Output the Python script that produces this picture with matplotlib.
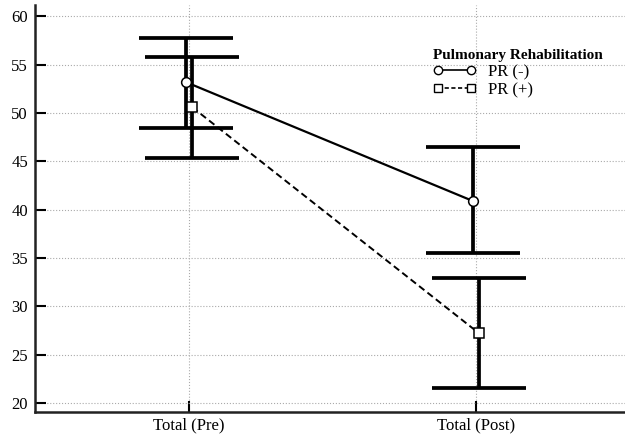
import matplotlib.pyplot as plt
from matplotlib.lines import Line2D

# values
categories = ["Total (Pre)", "Total (Post)"]
pr_minus = [53.2, 40.9]
pr_minus_hi = [57.8, 46.5]
pr_minus_lo = [48.5, 35.5]
pr_plus = [50.6, 27.2]
pr_plus_hi = [55.8, 32.9]
pr_plus_lo = [45.3, 21.6]

plt.rcParams["font.family"] = ["Liberation Serif", "DejaVu Serif"]

fig = plt.figure(figsize=(6.25, 4.36), dpi=100)
ax = fig.add_axes([0.056, 0.055, 0.944, 0.934])

xs = [0, 1]
off = 0.011
x_minus = [x - off for x in xs]
x_plus = [x + off for x in xs]

err_minus = [[m - lo for m, lo in zip(pr_minus, pr_minus_lo)],
             [hi - m for m, hi in zip(pr_minus, pr_minus_hi)]]
err_plus = [[m - lo for m, lo in zip(pr_plus, pr_plus_lo)],
            [hi - m for m, hi in zip(pr_plus, pr_plus_hi)]]

ax.errorbar(x_minus, pr_minus, yerr=err_minus, fmt="none", ecolor="black",
            elinewidth=2.7, capsize=34, capthick=2.7, zorder=3)
ax.errorbar(x_plus, pr_plus, yerr=err_plus, fmt="none", ecolor="black",
            elinewidth=2.7, capsize=34, capthick=2.7, zorder=3)

ax.plot(x_minus, pr_minus, color="black", lw=1.6, ls="-", marker="o",
        ms=7, mfc="white", mec="black", mew=1.1, zorder=4)
ax.plot(x_plus, pr_plus, color="black", lw=1.4, ls=(0, (3.5, 2)), marker="s",
        ms=7, mfc="white", mec="black", mew=1.1, zorder=4)

ax.set_xlim(-0.537, 1.519)
ax.set_ylim(19.07, 61.2)
ax.set_xticks(xs)
ax.set_xticklabels(categories, fontsize=12)
ax.set_yticks(range(20, 61, 5))
ax.tick_params(axis="y", labelsize=12, direction="in", length=8, width=1.5, pad=5)
ax.tick_params(axis="x", direction="in", length=8, width=1.5, pad=4)

ax.grid(True, color="#aaaaaa", ls=":", lw=0.8)
ax.set_axisbelow(True)
for side in ["top", "right"]:
    ax.spines[side].set_visible(False)
for side in ["left", "bottom"]:
    ax.spines[side].set_linewidth(1.8)
    ax.spines[side].set_color("#222222")

handles = [
    Line2D([], [], color="black", lw=1.2, ls="-", marker="o", ms=6,
           mfc="white", mec="black"),
    Line2D([], [], color="black", lw=1.2, ls=(0, (2.5, 1.5)), marker="s", ms=6,
           mfc="white", mec="black"),
]
leg = ax.legend(handles, ["PR (-)", "PR (+)"], title="Pulmonary Rehabilitation",
                loc="upper left", bbox_to_anchor=(0.655, 0.92), frameon=False,
                numpoints=2, fontsize=12, handlelength=2.6, handletextpad=0.7,
                labelspacing=0.12, borderpad=0.2)
leg.get_title().set_fontweight("bold")
leg.get_title().set_fontsize(11)
leg._legend_box.align = "left"

fig.savefig("out.png", dpi=100)
